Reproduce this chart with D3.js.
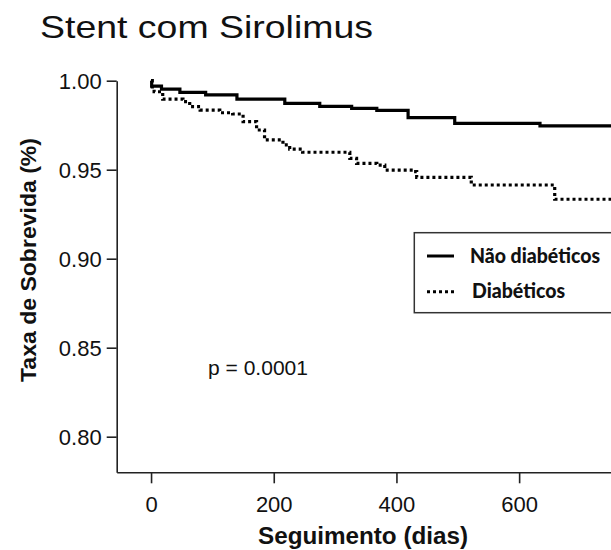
<!DOCTYPE html>
<html>
<head>
<meta charset="utf-8">
<script src="https://cdn.jsdelivr.net/npm/d3@7"></script>
<style>
  html, body { margin: 0; padding: 0; background: #fff; }
  svg { display: block; }
</style>
</head>
<body>
<div id="chart"></div>
<script>
// survival curves (days, survival rate)
const naoDays = [0, 1, 17, 47, 89, 140, 218, 275, 327, 368, 419, 495, 634, 760];
const naoSurv = [1.000, 0.997, 0.9953, 0.9934, 0.992, 0.9896, 0.9873, 0.9856, 0.9845, 0.9833, 0.9793, 0.976, 0.9746, 0.9744];

const diabDays = [0, 2, 5, 19, 52, 63, 80, 112, 133, 150, 172, 185, 215, 226, 247, 324, 335, 368, 381, 427, 433, 522, 658, 760];
const diabSurv = [1.000, 0.995, 0.9938, 0.9896, 0.9882, 0.9854, 0.9835, 0.982, 0.9813, 0.977, 0.9723, 0.9667, 0.9639, 0.9616, 0.9598, 0.9564, 0.9536, 0.9526, 0.9498, 0.9489, 0.9457, 0.9414, 0.9334, 0.933];

const xTicks = [0, 200, 400, 600];
const yTicks = [0.80, 0.85, 0.90, 0.95, 1.00];

const seriesNames = ["Não diabéticos", "Diabéticos"];

const width = 611, height = 550;

const svg = d3.select("#chart").append("svg")
  .attr("width", width)
  .attr("height", height);

const x = d3.scaleLinear().domain([-56, 850]).range([116.7, 672.5]);
const y = d3.scaleLinear().domain([0.78, 1.0]).range([472.3, 80.7]);

const tickFont = "'Liberation Sans', Arial, sans-serif";

// y axis
const yAxis = svg.append("g")
  .attr("transform", `translate(${x.range()[0]},0)`)
  .call(d3.axisLeft(y).tickValues(yTicks).tickFormat(d3.format(".2f"))
    .tickSize(10).tickSizeOuter(0).tickPadding(5));

// x axis
const xAxis = svg.append("g")
  .attr("transform", `translate(0,${y.range()[0]})`)
  .call(d3.axisBottom(x).tickValues(xTicks).tickFormat(d3.format("d"))
    .tickSize(11).tickSizeOuter(0).tickPadding(9));

[yAxis, xAxis].forEach(g => {
  g.selectAll("path, line").attr("stroke", "#222").attr("stroke-width", 1.6);
  g.selectAll("text")
    .attr("fill", "#111")
    .style("font-family", tickFont)
    .style("font-size", "22px");
});
yAxis.selectAll("text").attr("dy", "0.36em");
xAxis.selectAll("text").attr("dy", "0.88em");

// curves
const line = d3.line()
  .x(d => x(d[0]))
  .y(d => y(d[1]))
  .curve(d3.curveStepAfter);

const naoData = naoDays.map((d, i) => [d, naoSurv[i]]);
const diabData = diabDays.map((d, i) => [d, diabSurv[i]]);

svg.append("path")
  .datum(naoData)
  .attr("d", line)
  .attr("fill", "none")
  .attr("stroke", "#000")
  .attr("stroke-width", 3.2);

svg.append("path")
  .datum(diabData)
  .attr("d", line)
  .attr("fill", "none")
  .attr("stroke", "#000")
  .attr("stroke-width", 3.2)
  .attr("stroke-dasharray", "3,3");

// title
svg.append("text")
  .attr("x", 40).attr("y", 38)
  .attr("textLength", 333).attr("lengthAdjust", "spacingAndGlyphs")
  .style("font-family", tickFont)
  .style("font-size", "32px")
  .attr("fill", "#111")
  .text("Stent com Sirolimus");

// axis titles
svg.append("text")
  .attr("transform", "translate(36,260) rotate(-90)")
  .attr("text-anchor", "middle")
  .attr("textLength", 244).attr("lengthAdjust", "spacingAndGlyphs")
  .style("font-family", tickFont)
  .style("font-size", "22px")
  .style("font-weight", "bold")
  .attr("fill", "#111")
  .text("Taxa de Sobrevida (%)");

svg.append("text")
  .attr("x", 258).attr("y", 544)
  .attr("textLength", 210).attr("lengthAdjust", "spacingAndGlyphs")
  .style("font-family", tickFont)
  .style("font-size", "23px")
  .style("font-weight", "bold")
  .attr("fill", "#111")
  .text("Seguimento (dias)");

// p value
svg.append("text")
  .attr("x", 208).attr("y", 375)
  .attr("textLength", 100).attr("lengthAdjust", "spacingAndGlyphs")
  .style("font-family", tickFont)
  .style("font-size", "19.5px")
  .attr("fill", "#111")
  .text("p = 0.0001");

// legend
const legend = svg.append("g");
legend.append("rect")
  .attr("x", 414.3).attr("y", 232.7)
  .attr("width", 240).attr("height", 80)
  .attr("fill", "#fff")
  .attr("stroke", "#333")
  .attr("stroke-width", 1.5);

const legendRows = [
  { name: seriesNames[0], dash: null, ly: 256, ty: 263.3, len: 130, tx: 470 },
  { name: seriesNames[1], dash: "3,3", ly: 291.7, ty: 298.3, len: 93, tx: 472 }
];

legendRows.forEach(r => {
  legend.append("line")
    .attr("x1", 427).attr("x2", 454)
    .attr("y1", r.ly).attr("y2", r.ly)
    .attr("stroke", "#000")
    .attr("stroke-width", 3)
    .attr("stroke-dasharray", r.dash);
  legend.append("text")
    .attr("x", r.tx)
    .attr("y", r.ty)
    .attr("textLength", r.len).attr("lengthAdjust", "spacingAndGlyphs")
    .style("font-family", "Lato, 'Open Sans', sans-serif")
    .style("font-size", "20px")
    .style("font-weight", "900")
    .attr("fill", "#111")
    .text(r.name);
});
</script>
</body>
</html>
